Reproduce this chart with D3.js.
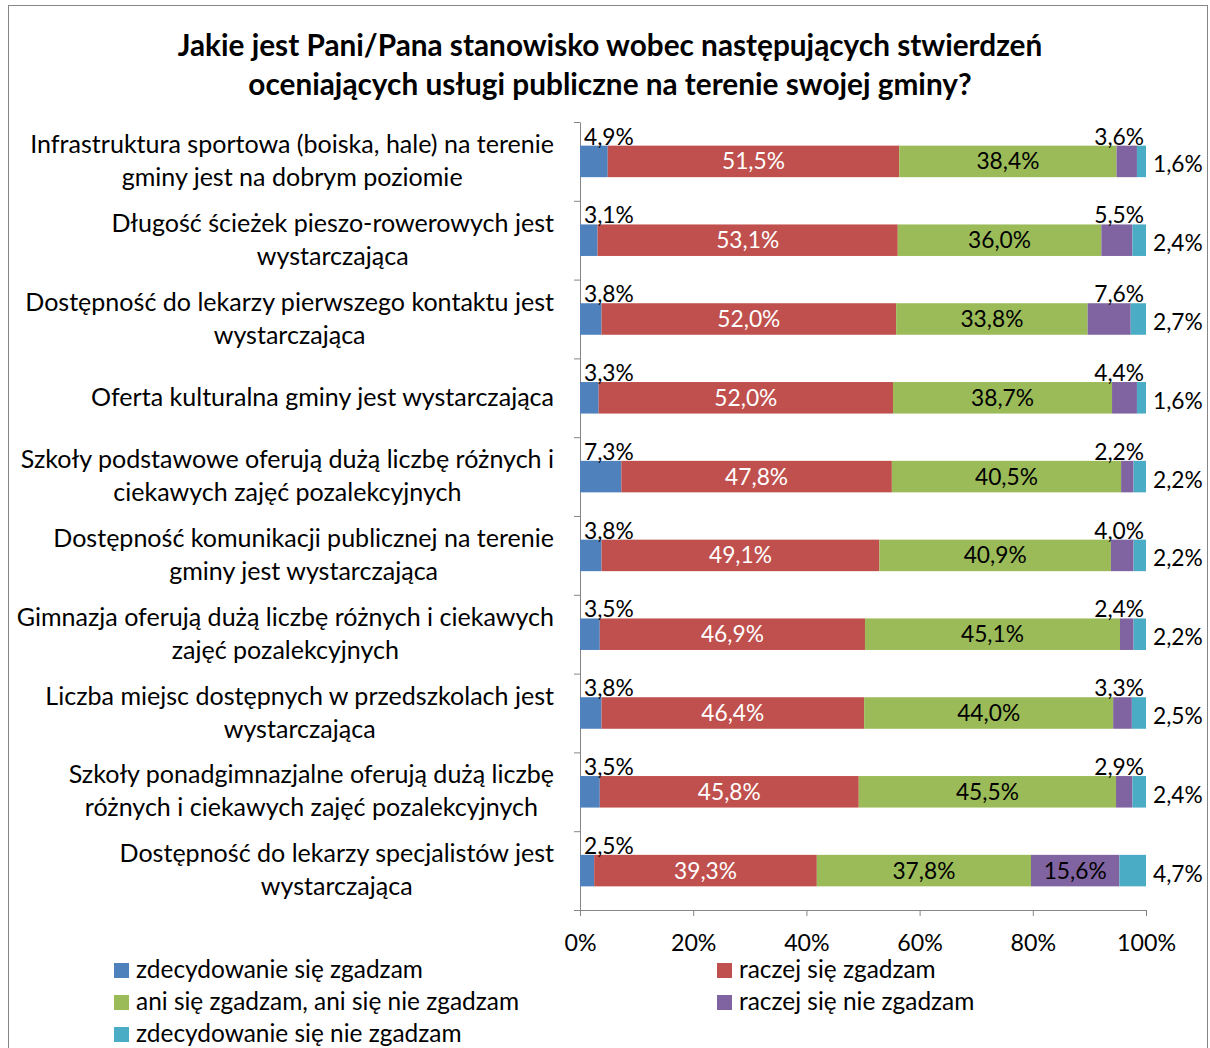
<!DOCTYPE html>
<html>
<head>
<meta charset="utf-8">
<script src="https://cdn.jsdelivr.net/npm/d3@7"></script>
<style>
  html, body { margin: 0; padding: 0; background: #fff; }
  text { font-family: Lato, "Open Sans", sans-serif; fill: #000; }
</style>
</head>
<body>
<svg id="chart" width="1210" height="1048"></svg>
<script>
const categories = [
  ["Infrastruktura sportowa (boiska, hale) na terenie", "gminy jest na dobrym poziomie"],
  ["Długość ścieżek pieszo-rowerowych jest", "wystarczająca"],
  ["Dostępność do lekarzy pierwszego kontaktu jest", "wystarczająca"],
  ["Oferta kulturalna gminy jest wystarczająca"],
  ["Szkoły podstawowe oferują dużą liczbę różnych i", "ciekawych zajęć pozalekcyjnych"],
  ["Dostępność komunikacji publicznej na terenie", "gminy jest wystarczająca"],
  ["Gimnazja oferują dużą liczbę różnych i ciekawych", "zajęć pozalekcyjnych"],
  ["Liczba miejsc dostępnych w przedszkolach jest", "wystarczająca"],
  ["Szkoły ponadgimnazjalne oferują dużą liczbę", "różnych i ciekawych zajęć pozalekcyjnych"],
  ["Dostępność do lekarzy specjalistów jest", "wystarczająca"]
];
const seriesNames = [
  "zdecydowanie się zgadzam",
  "raczej się zgadzam",
  "ani się zgadzam, ani się nie zgadzam",
  "raczej się nie zgadzam",
  "zdecydowanie się nie zgadzam"
];
const zdecydowanieTak = [4.9, 3.1, 3.8, 3.3, 7.3, 3.8, 3.5, 3.8, 3.5, 2.5];
const raczejTak       = [51.5, 53.1, 52.0, 52.0, 47.8, 49.1, 46.9, 46.4, 45.8, 39.3];
const aniAni          = [38.4, 36.0, 33.8, 38.7, 40.5, 40.9, 45.1, 44.0, 45.5, 37.8];
const raczejNie       = [3.6, 5.5, 7.6, 4.4, 2.2, 4.0, 2.4, 3.3, 2.9, 15.6];
const zdecydowanieNie = [1.6, 2.4, 2.7, 1.6, 2.2, 2.2, 2.2, 2.5, 2.4, 4.7];
const xTicks = [0, 20, 40, 60, 80, 100];
const colors = ["#4F81BD", "#C0504D", "#9BBB59", "#8064A2", "#4BACC6"];
const titleLines = [
  "Jakie jest Pani/Pana stanowisko wobec następujących stwierdzeń",
  "oceniających usługi publiczne na terenie swojej gminy?"
];

const seriesValues = [zdecydowanieTak, raczejTak, aniAni, raczejNie, zdecydowanieNie];
const fmt = v => v.toFixed(1).replace(".", ",") + "%";

const svg = d3.select("#chart");

// font size that makes a sample string reach a target width
function fitSize(sample, target, weight) {
  const t = svg.append("text").style("font-size", "100px").style("font-weight", weight || "normal").text(sample);
  const w = t.node().getComputedTextLength();
  t.remove();
  return 100 * target / w;
}
const fsTitle = fitSize(titleLines[0], 865, "bold");
const fsCat = fitSize(categories[0][0], 524);
const fsLbl = fitSize("51,5%", 63);
const fsTick = fitSize("100%", 59);
const fsLeg = fitSize(seriesNames[0], 287);

// outer border
svg.append("rect").attr("x", 8.5).attr("y", 5.5).attr("width", 1199).attr("height", 1100)
  .attr("fill", "none").attr("stroke", "#868686").attr("stroke-width", 1);

// title
const title = svg.append("text").attr("text-anchor", "middle")
  .style("font-weight", "bold").style("font-size", fsTitle + "px");
titleLines.forEach((ln, j) => title.append("tspan").attr("x", 610).attr("y", 56 + j * 39).text(ln));

const idx = d3.range(categories.length);
const y = d3.scaleBand().domain(idx).range([122, 910]).paddingInner(0.6).paddingOuter(0.3);
const x = d3.scaleLinear().domain([0, 100]).range([580, 1146]);

// stacked data (normalized to 100%, like a 100% stacked bar)
const rows = idx.map(i => {
  const vals = seriesValues.map(s => s[i]);
  const total = d3.sum(vals);
  let acc = 0;
  return vals.map((v, k) => {
    const x0 = acc / total * 100; acc += v; const x1 = acc / total * 100;
    return { i, k, v, x0, x1 };
  });
});

// axes
const yb = d3.scaleLinear().domain([0, categories.length]).range([122, 910]);
const leftAxis = svg.append("g").attr("transform", "translate(580,0)")
  .call(d3.axisLeft(yb).tickValues(d3.range(categories.length + 1)).tickSize(6).tickSizeOuter(0).tickFormat(""));
leftAxis.select(".domain").attr("stroke", "#868686");
leftAxis.selectAll(".tick line").attr("stroke", "#868686");

const bottomAxis = svg.append("g").attr("transform", "translate(0,910)")
  .call(d3.axisBottom(x).tickValues(xTicks).tickSize(6).tickSizeOuter(0).tickFormat(d => d + "%"));
bottomAxis.select(".domain").attr("stroke", "#868686");
bottomAxis.selectAll(".tick line").attr("stroke", "#868686");
bottomAxis.selectAll(".tick text").style("font-size", fsTick + "px").style("font-family", "Lato, sans-serif")
  .attr("fill", "#000").attr("dy", "0").attr("y", 41);

// bars
const g = svg.append("g");
rows.forEach(r => {
  g.selectAll(null).data(r).enter().append("rect")
    .attr("x", d => x(d.x0))
    .attr("y", d => y(d.i))
    .attr("width", d => x(d.x1) - x(d.x0))
    .attr("height", y.bandwidth())
    .attr("fill", d => colors[d.k]);
});

// data labels
const lbl = svg.append("g").style("font-size", fsLbl + "px");
rows.forEach(r => {
  r.forEach(d => {
    const top = y(d.i), mid = top + y.bandwidth() / 2;
    let t;
    if (d.k === 0) {
      t = lbl.append("text").attr("x", x(d.x0) + 4).attr("y", top - 1).attr("text-anchor", "start");
    } else if (d.k === 1 || d.k === 2 || (d.k === 3 && d.v > 10)) {
      t = lbl.append("text").attr("x", (x(d.x0) + x(d.x1)) / 2).attr("y", mid + 8).attr("text-anchor", "middle")
        .style("fill", d.k === 1 ? "#fff" : "#000");
    } else if (d.k === 3) {
      t = lbl.append("text").attr("x", 1144).attr("y", top - 1).attr("text-anchor", "end");
    } else {
      t = lbl.append("text").attr("x", 1153).attr("y", mid + 11).attr("text-anchor", "start");
    }
    t.text(fmt(d.v));
  });
});

// category labels: centered lines, block right-aligned at 554
const cat = svg.append("g").style("font-size", fsCat + "px");
categories.forEach((lines, i) => {
  const mid = y(i) + y.bandwidth() / 2;
  const t = cat.append("text").attr("text-anchor", "middle");
  const spans = lines.map(ln => t.append("tspan").text(ln));
  const w = d3.max(spans, s => s.node().getComputedTextLength());
  const cx = 554 - w / 2;
  const n = lines.length;
  spans.forEach((s, j) => {
    s.attr("x", cx).attr("y", mid + 8 + (j - (n - 1) / 2) * 33);
  });
});

// legend
const legendPos = [[114, 970], [717, 970], [114, 1002], [717, 1002], [114, 1034]];
const leg = svg.append("g").style("font-size", fsLeg + "px");
seriesNames.forEach((name, k) => {
  const [lx, ly] = legendPos[k];
  leg.append("rect").attr("x", lx).attr("y", ly - 7).attr("width", 15).attr("height", 15).attr("fill", colors[k]);
  leg.append("text").attr("x", lx + 22).attr("y", ly + 8).text(name);
});
</script>
</body>
</html>
